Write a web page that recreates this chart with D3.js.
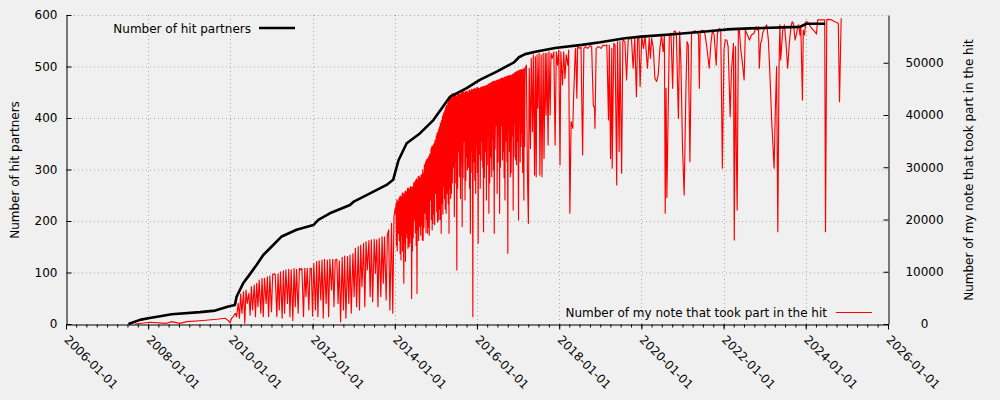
<!DOCTYPE html>
<html><head><meta charset="utf-8">
<script src="https://cdn.jsdelivr.net/npm/d3@7"></script>
<style>
html,body{margin:0;padding:0;background:#f0f0f0;}
svg{display:block;font-family:"DejaVu Sans",sans-serif;font-size:12px;}
</style></head>
<body>
<svg id="chart" width="1000" height="400"></svg>
<script>
// ---------- DATA ----------
const xTickYears = [2006,2008,2010,2012,2014,2016,2018,2020,2022,2024,2026];
const leftTicks = [0,100,200,300,400,500,600];
const rightTicks = [0,10000,20000,30000,40000,50000];
const seriesNames = ["Number of hit partners","Number of my note that took part in the hit"];
const leftAxisTitle = "Number of hit partners";
const rightAxisTitle = "Number of my note that took part in the hit";

// cumulative hit partners: [decimal year, count]
const hitPartners = [
 [2007.52,0],[2007.80,8],[2008.00,11],[2008.29,15],[2008.57,19],[2009.26,23],[2009.63,26],
 [2009.95,34],[2010.11,37],[2010.15,53],[2010.31,79],[2010.44,93],[2010.64,115],[2010.80,134],
 [2011.00,150],[2011.25,170],[2011.61,183],[2012.02,192],[2012.14,202],[2012.42,215],
 [2012.91,231],[2012.99,237],[2013.48,257],[2013.80,270],[2013.96,280],[2014.09,318],
 [2014.29,351],[2014.61,370],[2014.94,396],[2015.34,441],[2015.75,458],[2016.07,474],
 [2016.48,490],[2016.90,508],[2017.02,518],[2017.17,524],[2017.45,529],[2017.90,536],
 [2018.55,542],[2019.00,547],[2019.60,555],[2020.00,558],[2020.85,563],[2021.55,568],
 [2022.08,572],[2022.64,574],[2023.86,577],[2023.94,580],[2024.02,583],[2024.47,583]
];

// notes that took part in the hit: [decimal year, count]
const noteCounts = [
 [2007.68,0],[2007.85,150],[2008.04,330],[2008.45,130],[2008.57,450],[2008.77,130],[2008.94,450],
 [2009.26,630],[2009.67,900],[2009.87,1100],[2009.95,650],[2009.99,250],[2010.03,1100],[2010.07,1400],[2010.12,2050],
 [2010.15,1400],[2010.19,3950],[2010.22,1100],[2010.25,5750],[2010.28,2050],[2010.32,6200],[2010.35,150],[2010.38,6500],
 [2010.41,3950],[2010.45,5850],[2010.48,1700],[2010.51,7150],[2010.54,2700],[2010.58,7450],[2010.61,1400],[2010.64,7800],
 [2010.67,3300],[2010.70,8400],[2010.74,2050],[2010.77,8750],[2010.80,1400],[2010.83,8750],[2010.87,3950],[2010.90,9050],
 [2010.93,1400],[2010.96,9200],[2011.00,2350],[2011.03,9550],[2011.06,9550],[2011.09,9550],[2011.13,1400],[2011.16,9550],
 [2011.19,2700],[2011.22,10000],[2011.26,1100],[2011.29,10200],[2011.32,2050],[2011.35,10350],[2011.39,3950],[2011.42,10450],
 [2011.45,1400],[2011.48,10350],[2011.52,650],[2011.55,10600],[2011.58,3300],[2011.61,10450],[2011.65,2050],[2011.68,10650],
 [2011.71,10350],[2011.74,10650],[2011.78,1400],[2011.81,10650],[2011.84,5250],[2011.87,10650],[2011.91,2700],[2011.94,10650],
 [2011.97,10650],[2012.00,1550],[2012.03,11600],[2012.07,2700],[2012.10,11950],[2012.13,1400],[2012.16,12100],[2012.20,4600],
 [2012.23,12250],[2012.26,1100],[2012.29,12400],[2012.33,3950],[2012.36,12250],[2012.39,1400],[2012.42,12400],[2012.46,6500],
 [2012.49,12400],[2012.52,3300],[2012.55,12250],[2012.59,12400],[2012.62,3950],[2012.65,12100],[2012.68,450],[2012.72,12750],
 [2012.75,2700],[2012.78,13000],[2012.81,1100],[2012.85,12900],[2012.88,3950],[2012.91,13200],[2012.94,2050],[2012.98,13500],
 [2013.01,5250],[2013.04,14500],[2013.07,3300],[2013.11,14800],[2013.14,2700],[2013.17,15100],[2013.20,7150],[2013.24,15450],
 [2013.27,3300],[2013.30,15750],[2013.33,10350],[2013.37,15950],[2013.40,5250],[2013.43,16100],[2013.46,4250],[2013.50,16200],
 [2013.53,9700],[2013.56,16100],[2013.59,3300],[2013.62,16400],[2013.66,5250],[2013.69,16700],[2013.72,7800],[2013.75,16700],
 [2013.79,4600],[2013.82,17050],[2013.85,18000],[2013.88,2700],[2013.92,19250],[2013.95,2050],[2013.98,20550],[2014.01,22150],
 [2014.02,21200],[2014.05,23750],[2014.09,17350],[2014.12,24350],[2014.15,12250],[2014.18,25000],[2014.22,7800],[2014.25,25350],
 [2014.28,17350],[2014.31,25950],[2014.35,14800],[2014.38,26300],[2014.41,4900],[2014.44,26300],[2014.48,19900],[2014.51,27550],
 [2014.54,5850],[2014.57,28200],[2014.61,18650],[2014.64,28500],[2014.67,16100],[2014.70,28850],[2014.74,21200],[2014.77,31400],
 [2014.80,17350],[2014.83,32050],[2014.87,23750],[2014.90,33950],[2014.93,19250],[2014.96,34600],[2015.00,25000],[2015.03,36500],
 [2015.06,19900],[2015.09,37750],[2015.13,17350],[2015.16,39700],[2015.19,26300],[2015.22,40950],[2015.25,21200],[2015.29,42250],
 [2015.32,17350],[2015.35,43500],[2015.38,25000],[2015.42,44150],[2015.45,20550],[2015.48,44150],[2015.51,10350],[2015.55,44450],
 [2015.58,28200],[2015.61,44150],[2015.64,18650],[2015.68,44650],[2015.71,23750],[2015.74,44450],[2015.77,29500],[2015.81,44800],
 [2015.84,17350],[2015.87,44900],[2015.90,1400],[2015.94,45100],[2015.97,25000],[2016.00,45300],[2016.03,15450],[2016.07,45100],
 [2016.10,31400],[2016.13,45450],[2016.16,17650],[2016.20,45550],[2016.23,23750],[2016.26,45750],[2016.29,21200],[2016.33,46050],
 [2016.36,28200],[2016.39,46400],[2016.42,17350],[2016.46,46550],[2016.49,25000],[2016.52,46700],[2016.55,21200],[2016.59,47000],
 [2016.62,31400],[2016.65,47000],[2016.68,23750],[2016.72,47350],[2016.75,13550],[2016.78,47450],[2016.81,28200],[2016.85,47650],
 [2016.88,21800],[2016.91,48000],[2016.94,31400],[2016.97,48300],[2017.01,19900],[2017.04,48600],[2017.07,33950],[2017.10,48600],
 [2017.14,23750],[2017.17,48950],
 [2017.20,49550],[2017.23,27250],[2017.25,19250],[2017.27,48950],[2017.30,33600],[2017.32,50850],[2017.35,36800],[2017.37,51500],
 [2017.40,28500],[2017.42,51150],[2017.44,28200],[2017.46,51500],[2017.48,41300],[2017.51,51800],[2017.53,28500],[2017.56,51500],
 [2017.58,28200],[2017.61,51800],[2017.63,31700],[2017.66,51800],[2017.68,40000],[2017.70,51800],[2017.73,34250],[2017.75,52100],
 [2017.78,40000],[2017.80,51800],[2017.83,50850],[2017.87,52100],[2017.90,34250],[2017.93,52100],[2017.96,49550],[2017.99,52450],
 [2018.02,30450],[2018.04,52100],[2018.08,45750],[2018.11,52100],[2018.14,47000],[2018.17,51500],[2018.21,49550],[2018.23,52450],
 [2018.26,21200],[2018.29,38750],[2018.33,37450],[2018.35,43200],[2018.39,52100],[2018.40,52750],[2018.43,43200],[2018.45,53100],
 [2018.49,52750],[2018.53,52950],[2018.57,32350],[2018.60,52750],[2018.64,53100],[2018.69,52750],[2018.75,53250],[2018.79,53100],
 [2018.83,41900],[2018.86,41300],[2018.87,37450],[2018.90,52750],[2018.95,53100],[2019.02,52750],[2019.07,53400],[2019.12,53250],
 [2019.16,53400],[2019.20,39050],[2019.22,53400],[2019.25,31700],[2019.28,52750],[2019.29,29800],[2019.33,53700],[2019.36,53400],
 [2019.40,26600],[2019.42,54050],[2019.46,33000],[2019.48,54050],[2019.52,28850],[2019.55,54350],[2019.60,54050],[2019.64,46700],
 [2019.68,54350],[2019.72,54700],[2019.76,54550],[2019.80,48950],[2019.84,54700],[2019.88,43500],[2019.91,54800],[2019.94,55000],
 [2019.97,45450],[2020.01,55200],[2020.05,52750],[2020.09,55200],[2020.13,50850],[2020.15,48950],[2020.19,54700],[2020.22,50850],
 [2020.25,54700],[2020.29,52750],[2020.33,47000],[2020.37,46400],[2020.41,47650],[2020.45,52750],[2020.49,55300],[2020.53,52100],
 [2020.56,55300],[2020.58,21200],[2020.60,45100],[2020.62,24200],[2020.66,45100],[2020.68,55300],[2020.72,55650],[2020.76,45100],
 [2020.79,55950],[2020.82,56100],[2020.85,55300],[2020.90,39350],[2020.93,55950],[2020.96,50200],[2021.00,33600],[2021.04,24700],
 [2021.08,43850],[2021.11,54050],[2021.14,53400],[2021.18,31050],[2021.22,55650],[2021.26,55950],[2021.30,56100],[2021.35,55950],
 [2021.39,55300],[2021.41,45100],[2021.43,55950],[2021.48,56250],[2021.53,55950],
 [2021.55,55300],[2021.59,53100],[2021.65,48950],[2021.69,53700],[2021.73,56250],[2021.77,55300],[2021.82,49550],[2021.85,55650],
 [2021.90,56600],[2021.93,56250],[2021.97,29800],[2022.01,52450],[2022.04,54350],[2022.08,54350],[2022.11,53100],[2022.16,39700],
 [2022.19,48300],[2022.24,53700],[2022.26,16100],[2022.29,53100],[2022.31,33300],[2022.33,21800],[2022.36,56250],[2022.38,56600],
 [2022.42,52450],[2022.45,50550],[2022.50,46700],[2022.53,56250],[2022.58,55300],[2022.63,54350],[2022.68,55300],[2022.74,55650],
 [2022.79,56900],[2022.82,56250],[2022.85,56900],[2022.87,48950],[2022.90,53700],[2022.93,54350],[2022.95,55650],[2022.98,56250],
 [2023.02,56900],[2023.05,57250],[2023.09,54350],[2023.13,47350],[2023.17,39050],[2023.23,29800],[2023.26,40950],[2023.29,49250],
 [2023.32,17650],[2023.35,49250],[2023.37,57250],[2023.39,50550],[2023.44,56250],[2023.48,57250],[2023.52,53700],[2023.56,48950],
 [2023.60,53700],[2023.64,56900],[2023.67,57850],[2023.70,57550],[2023.74,54350],[2023.78,55650],[2023.80,56900],[2023.83,57250],
 [2023.86,55300],[2023.88,56900],[2023.92,42850],[2023.94,56250],[2023.97,55300],[2024.00,57850],[2024.04,57850],[2024.09,57250],
 [2024.14,56600],[2024.22,55950],[2024.26,55500],[2024.29,58200],[2024.39,58200],[2024.46,58200],[2024.48,17650],[2024.51,58200],
 [2024.55,58300],[2024.63,58200],[2024.71,57850],[2024.79,57550],[2024.82,42550],[2024.86,58500]
];

// extra readings in the densest stretch (2014 - early 2017)
const noteCountsDense = [
 [2014.03,23000],[2014.04,15000],[2014.06,14000],[2014.07,23500],[2014.10,24000],[2014.11,16000],
 [2014.13,13500],[2014.14,24500],[2014.16,24200],[2014.17,17000],[2014.19,14000],[2014.20,25100],
 [2014.23,24800],[2014.24,15500],[2014.26,12000],[2014.27,25500],[2014.29,25200],[2014.30,16500],
 [2014.32,14500],[2014.33,26000],[2014.36,25800],[2014.37,15500],[2014.39,17000],[2014.40,26200],
 [2014.42,26000],[2014.43,14000],[2014.45,16500],[2014.46,27000],[2014.49,27200],[2014.50,17500],
 [2014.52,15000],[2014.53,27800],[2014.55,27500],[2014.56,18000],[2014.58,16000],[2014.59,28300],
 [2014.62,28000],[2014.63,17000],[2014.65,19000],[2014.66,28600],[2014.68,29500],[2014.69,16000],
 [2014.71,18500],[2014.72,30500],[2014.75,31000],[2014.76,17500],[2014.78,20000],[2014.79,31500],
 [2014.81,31800],[2014.82,18500],[2014.84,17000],[2014.85,32500],[2014.88,33500],[2014.89,20000],
 [2014.91,18000],[2014.92,34000],[2014.94,34300],[2014.95,21000],[2014.97,19000],[2014.98,35200],
 [2015.01,36000],[2015.02,21500],[2015.04,19500],[2015.05,36800],[2015.07,37300],[2015.08,22000],
 [2015.10,20000],[2015.11,38500],[2015.14,39000],[2015.15,23000],[2015.17,21000],[2015.18,40200],
 [2015.20,40500],[2015.21,24000],[2015.23,22000],[2015.24,41500],[2015.26,41800],[2015.27,25000],
 [2015.30,23000],[2015.31,42800],[2015.33,43000],[2015.34,26000],[2015.36,24000],[2015.37,43800],
 [2015.39,44000],[2015.40,27000],
 [2015.43,30000],[2015.44,43800],[2015.46,44000],[2015.47,27000],[2015.49,31000],[2015.50,43500],
 [2015.52,44200],[2015.53,26000],[2015.56,33000],[2015.57,44000],[2015.59,43800],[2015.60,24000],
 [2015.62,30500],[2015.63,44300],[2015.65,44400],[2015.66,28000],[2015.69,35000],[2015.70,44100],
 [2015.72,44500],[2015.73,27500],[2015.75,32000],[2015.76,44600],[2015.78,44300],[2015.79,30000],
 [2015.82,26000],[2015.83,44700],[2015.85,44500],[2015.86,33000],[2015.88,29000],[2015.89,44800],
 [2015.91,44900],[2015.92,31000],[2015.95,27500],[2015.96,45000],[2015.98,44900],[2015.99,34000],
 [2016.01,29000],[2016.02,45200],[2016.04,45100],[2016.05,32500],[2016.08,26000],[2016.09,45300],
 [2016.11,45200],[2016.12,35000],[2016.14,30000],[2016.15,45400],[2016.17,45500],[2016.18,28000],
 [2016.21,33000],[2016.22,45600],[2016.24,45700],[2016.25,30500],[2016.27,36000],[2016.28,45900],
 [2016.30,46000],[2016.31,27000],[2016.34,32000],[2016.35,46200],[2016.37,46300],[2016.38,35500],
 [2016.40,29500],[2016.41,46400],[2016.43,46500],[2016.44,33500],[2016.47,38000],[2016.48,46600],
 [2016.50,46700],[2016.51,31000],
 [2016.53,36000],[2016.54,46800],[2016.56,46900],[2016.57,30000],[2016.60,38000],[2016.61,47000],
 [2016.63,47100],[2016.64,33000],[2016.66,28000],[2016.67,47200],[2016.69,47300],[2016.70,35000],
 [2016.73,31000],[2016.74,47400],[2016.76,47500],[2016.77,37000],[2016.79,33000],[2016.80,47600],
 [2016.82,47600],[2016.83,29000],[2016.86,36000],[2016.87,47800],[2016.89,47900],[2016.90,32000],
 [2016.92,38500],[2016.93,48100],[2016.95,48200],[2016.96,30500],[2016.98,35000],[2016.99,48400],
 [2017.02,48500],[2017.03,39000],[2017.05,31000],[2017.06,48600],[2017.08,48700],[2017.09,36500],
 [2017.11,29000],[2017.12,48800],[2017.15,48900],[2017.16,34000]
];

// ---------- CHART ----------
const plot = {left: 66, right: 888, top: 15, bottom: 324};
const svg = d3.select("#chart");

function toDate(y) {
  const yr = Math.floor(y);
  const s = Date.UTC(yr, 0, 1), e = Date.UTC(yr + 1, 0, 1);
  return new Date(s + (y - yr) * (e - s));
}

const x = d3.scaleUtc()
  .domain([new Date(Date.UTC(xTickYears[0],0,1)), new Date(Date.UTC(xTickYears[xTickYears.length-1],0,1))])
  .range([plot.left, plot.right]);
const yL = d3.scaleLinear().domain([0, 600]).range([plot.bottom, plot.top]);
const yR = d3.scaleLinear().domain([0, 59140]).range([plot.bottom, plot.top]);

const xTickDates = xTickYears.map(y => new Date(Date.UTC(y,0,1)));
const gridColor = "#a8a8a8";

// grid
const grid = svg.append("g");
grid.selectAll("line.h").data(leftTicks.filter(d => d > 0)).join("line")
  .attr("x1", plot.left).attr("x2", plot.right)
  .attr("y1", d => yL(d) + 0.5).attr("y2", d => yL(d) + 0.5)
  .attr("stroke", gridColor).attr("stroke-width", 1).attr("stroke-dasharray", "1,3");
grid.selectAll("line.v").data(xTickDates.slice(1, -1)).join("line")
  .attr("x1", d => Math.round(x(d)) + 0.5).attr("x2", d => Math.round(x(d)) + 0.5)
  .attr("y1", plot.top).attr("y2", plot.bottom)
  .attr("stroke", gridColor).attr("stroke-width", 1).attr("stroke-dasharray", "1,3");

// series
const notesAll = noteCounts.concat(noteCountsDense).sort((a, b) => a[0] - b[0]);
const lineNotes = d3.line().x(d => x(toDate(d[0]))).y(d => yR(d[1]));
const lineHits = d3.line().x(d => x(toDate(d[0]))).y(d => yL(d[1]));

svg.append("path").datum(notesAll).attr("d", lineNotes)
  .attr("fill", "none").attr("stroke", "#ff0000").attr("stroke-width", 1.15).attr("stroke-linejoin", "round");
svg.append("path").datum(hitPartners).attr("d", lineHits)
  .attr("fill", "none").attr("stroke", "#000").attr("stroke-width", 2.6).attr("stroke-linejoin", "round");

// axes
const axisFont = g => g.attr("font-family", "DejaVu Sans").attr("font-size", 12);

const xAxisMinor = svg.append("g").attr("transform", `translate(0,${plot.bottom + 0.5})`)
  .call(d3.axisBottom(x).ticks(d3.utcMonth.every(3)).tickSize(3).tickFormat(""));
xAxisMinor.select(".domain").remove();

const xAxis = svg.append("g").attr("transform", `translate(0,${plot.bottom + 0.5})`)
  .call(d3.axisBottom(x).tickValues(xTickDates).tickSize(5).tickSizeOuter(0)
        .tickFormat(d3.utcFormat("%Y-%m-%d")))
  .call(axisFont);
xAxis.selectAll("text")
  .attr("x", 0).attr("y", 0).attr("dy", null)
  .attr("text-anchor", "start")
  .attr("transform", "translate(-3,16) rotate(45)")
  .attr("fill", "#000");

const yAxisL = svg.append("g").attr("transform", `translate(${plot.left + 0.5},0)`)
  .call(d3.axisLeft(yL).tickValues(leftTicks).tickSize(-5).tickSizeOuter(0).tickPadding(9))
  .call(axisFont);
yAxisL.selectAll("text").attr("fill", "#000");

const yAxisR = svg.append("g").attr("transform", `translate(${plot.right + 0.5},0)`)
  .call(d3.axisRight(yR).tickValues(rightTicks).tickSize(-5).tickSizeOuter(0).tickFormat(d3.format("d")))
  .call(axisFont);
yAxisR.selectAll("text").attr("x", 36).attr("text-anchor", "middle").attr("fill", "#000");

// axis titles
svg.append("text").attr("transform", "translate(19,170) rotate(-90)")
  .attr("text-anchor", "middle").attr("fill", "#000").text(leftAxisTitle);
svg.append("text").attr("transform", "translate(973,170) rotate(-90)")
  .attr("text-anchor", "middle").attr("fill", "#000").text(rightAxisTitle);

// legends
const leg1 = svg.append("g");
leg1.append("text").attr("x", 251).attr("y", 32.5).attr("text-anchor", "end").attr("fill", "#000").text(seriesNames[0]);
leg1.append("line").attr("x1", 259).attr("x2", 295).attr("y1", 28).attr("y2", 28)
  .attr("stroke", "#000").attr("stroke-width", 2.6);
const leg2 = svg.append("g");
leg2.append("text").attr("x", 827).attr("y", 316.5).attr("text-anchor", "end").attr("fill", "#000").text(seriesNames[1]);
leg2.append("line").attr("x1", 836).attr("x2", 872).attr("y1", 312.5).attr("y2", 312.5)
  .attr("stroke", "#ff0000").attr("stroke-width", 1.15);
</script>
</body></html>
